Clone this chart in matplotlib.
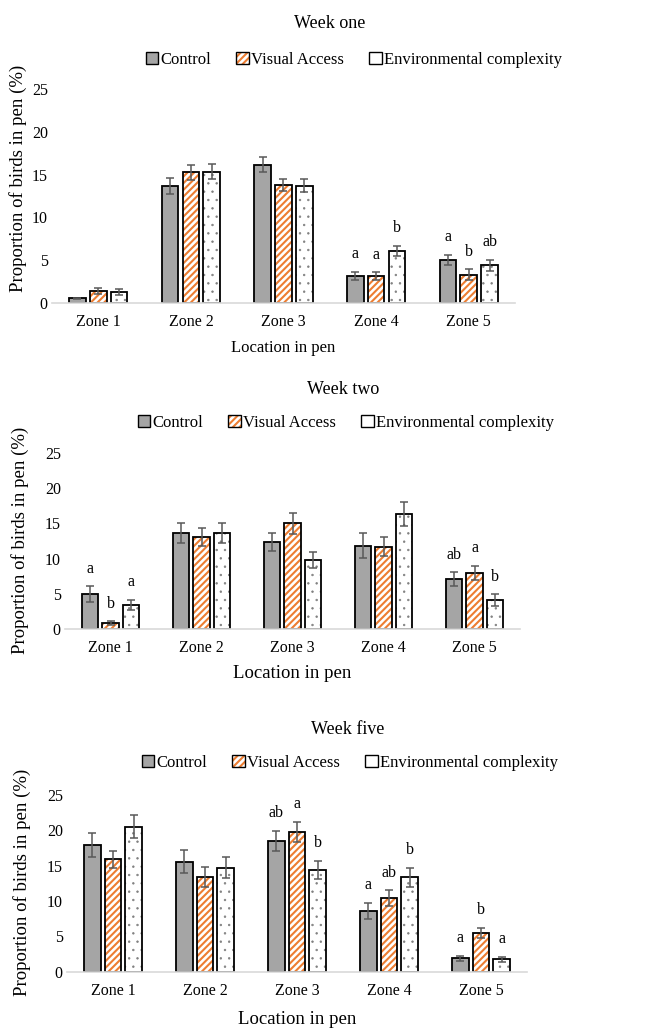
import matplotlib
matplotlib.use("Agg")
import matplotlib.pyplot as plt
import numpy as np
from matplotlib.patches import Patch
from matplotlib.legend_handler import HandlerTuple

plt.rcParams['font.family'] = ['Liberation Serif', 'DejaVu Serif']
plt.rcParams['hatch.linewidth'] = 1.5

zones = ["Zone 1", "Zone 2", "Zone 3", "Zone 4", "Zone 5"]
series_names = ["Control", "Visual Access", "Environmental complexity"]
y_ticks = [0, 5, 10, 15, 20, 25]

# Week one
w1_control = [0.5, 13.7, 16.2, 3.16, 5.0]
w1_visual = [1.37, 15.3, 13.8, 3.1, 3.3]
w1_env = [1.3, 15.35, 13.7, 6.05, 4.4]
w1_control_err = [0.1, 0.9, 0.85, 0.45, 0.6]
w1_visual_err = [0.3, 0.9, 0.75, 0.45, 0.6]
w1_env_err = [0.35, 0.9, 0.75, 0.6, 0.65]
w1_control_let = ["", "", "", "a", "a"]
w1_visual_let = ["", "", "", "a", "b"]
w1_env_let = ["", "", "", "b", "ab"]

# Week two
w2_control = [4.9, 13.64, 12.4, 11.83, 7.03]
w2_visual = [0.76, 13.1, 15.0, 11.7, 7.94]
w2_env = [3.37, 13.64, 9.8, 16.3, 4.09]
w2_control_err = [1.15, 1.4, 1.3, 1.8, 1.0]
w2_visual_err = [0.3, 1.3, 1.55, 1.3, 1.0]
w2_env_err = [0.7, 1.45, 1.15, 1.7, 0.8]
w2_control_let = ["a", "", "", "", "ab"]
w2_visual_let = ["b", "", "", "", "a"]
w2_env_let = ["a", "", "", "", "b"]

# Week five
w5_control = [17.9, 15.57, 18.5, 8.54, 1.89]
w5_visual = [15.9, 13.35, 19.8, 10.4, 5.47]
w5_env = [20.5, 14.7, 14.4, 13.35, 1.75]
w5_control_err = [1.7, 1.65, 1.4, 1.15, 0.4]
w5_visual_err = [1.2, 1.4, 1.4, 1.1, 0.7]
w5_env_err = [1.6, 1.5, 1.3, 1.3, 0.4]
w5_control_let = ["", "", "ab", "a", "a"]
w5_visual_let = ["", "", "a", "ab", "b"]
w5_env_let = ["", "", "b", "b", "a"]

W, H = 663, 1030
GRAY = '#a5a5a5'
ORANGE = '#ED7D31'
ERRC = '#595959'

fig = plt.figure(figsize=(W / 100, H / 100), dpi=100)


def rect(left, right, top, bottom):
    return [left / W, 1 - bottom / H, (right - left) / W, (bottom - top) / H]


def legend_handles():
    h1 = Patch(facecolor=GRAY, edgecolor='black', linewidth=1.0)
    h2 = (Patch(facecolor='white', edgecolor=ORANGE, hatch='/////', linewidth=0),
          Patch(facecolor='none', edgecolor='black', linewidth=1.0))
    h3 = Patch(facecolor='white', edgecolor='black', linewidth=1.0)
    return [h1, h2, h3]


def panel(r, title, title_xy, leg_xy, xlab_y, xlab_size, ylab_xy, data, errs, letters):
    ax = fig.add_axes(r)
    x = np.arange(len(zones))
    bw = 0.18
    step = 0.225
    offs = [-step, 0, step]
    for i, (vals, ev, lets) in enumerate(zip(data, errs, letters)):
        pos = x + offs[i]
        if i == 0:
            ax.bar(pos, vals, bw, color=GRAY, edgecolor='black', linewidth=1.3, zorder=2)
        elif i == 1:
            ax.bar(pos, vals, bw, color='white', edgecolor=ORANGE, hatch='/////', linewidth=0, zorder=2)
            ax.bar(pos, vals, bw, color='none', edgecolor='black', linewidth=1.3, zorder=3)
        else:
            with plt.rc_context({'hatch.linewidth': 0.5}):
                ax.bar(pos, vals, bw, color='white', edgecolor='#808080', hatch='..', linewidth=0, zorder=2)
            ax.bar(pos, vals, bw, color='none', edgecolor='black', linewidth=1.3, zorder=3)
        ax.errorbar(pos, vals, yerr=ev, fmt='none', ecolor=ERRC, elinewidth=1.1,
                    capsize=3, capthick=1.1, zorder=4)
        for p, v, e, l in zip(pos, vals, ev, lets):
            if l:
                ax.annotate(l, (p, v + e), xytext=(0, 7), textcoords='offset points',
                            ha='center', va='bottom', fontsize=11.5)
    ax.set_xlim(-0.5, len(zones) - 0.5)
    ax.set_ylim(0, 25)
    ax.set_yticks(y_ticks)
    ax.set_xticks(x)
    ax.set_xticklabels(zones)
    ax.tick_params(length=0, labelsize=11.5, pad=8)
    ax.tick_params(axis='y', pad=3)
    for s in ['top', 'right', 'left']:
        ax.spines[s].set_visible(False)
    ax.spines['bottom'].set_color('#d9d9d9')
    ax.spines['bottom'].set_linewidth(1.2)
    ax.spines['bottom'].set_zorder(5)
    fig.text(title_xy[0] / W, 1 - title_xy[1] / H, title, ha='center', va='center', fontsize=13)
    fig.legend(legend_handles(), series_names, loc='center',
               bbox_to_anchor=(leg_xy[0] / W, 1 - leg_xy[1] / H), ncol=3, frameon=False,
               fontsize=12, handlelength=0.75, handleheight=0.75, handletextpad=0.15,
               columnspacing=1.5, borderpad=0,
               handler_map={tuple: HandlerTuple(ndivide=1, pad=0)})
    xc = (r[0] + r[2] / 2)
    fig.text(xc, 1 - xlab_y / H, "Location in pen", ha='center', va='center', fontsize=xlab_size)
    fig.text(ylab_xy[0] / W, 1 - ylab_xy[1] / H, "Proportion of birds in pen (%)",
             rotation=90, ha='center', va='center', fontsize=13.5)
    return ax


panel(rect(52, 515, 89.5, 302.7), "Week one", (330, 24), (354, 60), 348, 12,
      (18, 178),
      [w1_control, w1_visual, w1_env],
      [w1_control_err, w1_visual_err, w1_env_err],
      [w1_control_let, w1_visual_let, w1_env_let])

panel(rect(65, 520, 453.3, 628.7), "Week two", (343, 389), (346, 423), 673, 13.5,
      (20, 540),
      [w2_control, w2_visual, w2_env],
      [w2_control_err, w2_visual_err, w2_env_err],
      [w2_control_let, w2_visual_let, w2_env_let])

panel(rect(67, 527, 795, 971.7), "Week five", (348, 729), (350, 763), 1020, 13.5,
      (22, 882),
      [w5_control, w5_visual, w5_env],
      [w5_control_err, w5_visual_err, w5_env_err],
      [w5_control_let, w5_visual_let, w5_env_let])

fig.savefig("out.png", dpi=100)
